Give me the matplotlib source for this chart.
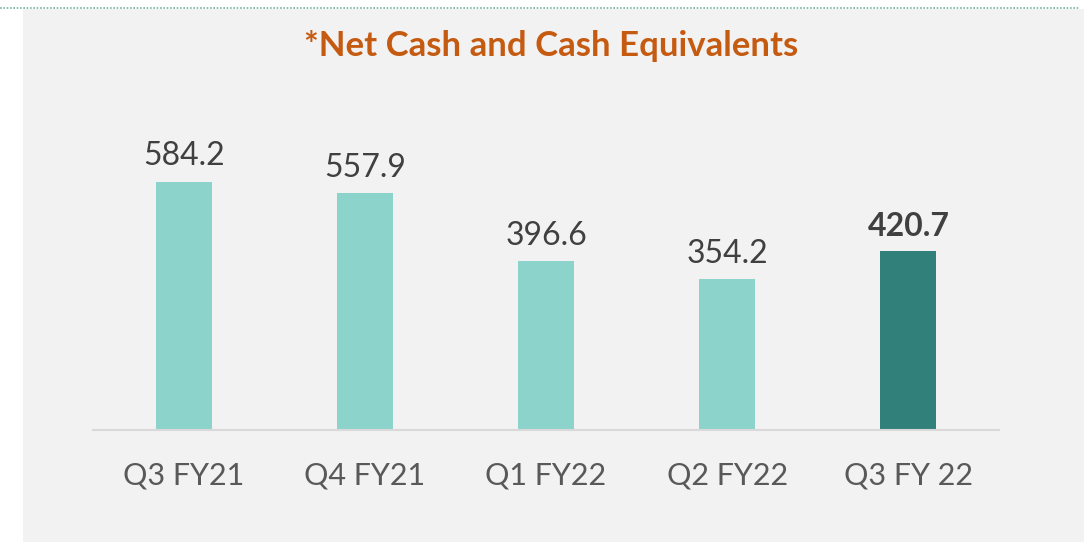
import matplotlib.pyplot as plt
from matplotlib.patches import Rectangle
from matplotlib.lines import Line2D

# 数据
quarters = ['Q3 FY21', 'Q4 FY21', 'Q1 FY22', 'Q2 FY22', 'Q3 FY 22']
net_cash = [584.2, 557.9, 396.6, 354.2, 420.7]
bar_colors = ['#8cd3cc', '#8cd3cc', '#8cd3cc', '#8cd3cc', '#31807a']

plt.rcParams['font.family'] = ['Lato', 'DejaVu Sans']

fig = plt.figure(figsize=(10.84, 5.42), dpi=100)
fig.patch.set_facecolor('white')

# 灰色背景面板和顶部虚线
fig.patches.append(Rectangle((23 / 1084, 0), 1 - 23 / 1084, 1 - 9 / 542,
                             transform=fig.transFigure, facecolor='#f2f2f2',
                             edgecolor='none', zorder=-10))
fig.lines.append(Line2D([0, 1080 / 1084], [1 - 7.5 / 542, 1 - 7.5 / 542],
                        transform=fig.transFigure, color='#7fb0a6',
                        linestyle=(0, (1, 1)), linewidth=1.2, zorder=-5))

ax = fig.add_axes([93 / 1084, 112 / 542, 906 / 1084, 350 / 542])
ax.set_facecolor('none')
ax.set_zorder(1)
x = range(len(quarters))
ax.bar(x, net_cash, width=0.31, color=bar_colors, zorder=2)

for i, v in enumerate(net_cash):
    last = i == len(net_cash) - 1
    ax.text(i, v + 24, f'{v:.1f}', ha='center', va='bottom', fontsize=23,
            color='#404040', fontweight='bold' if last else 'normal')

ax.set_xlim(-0.5, 4.5)
ax.set_ylim(0, 823)
ax.set_xticks(list(x))
ax.set_xticklabels(quarters, fontsize=22, color='#595959')
ax.tick_params(axis='x', length=0, pad=23)
ax.set_yticks([])
for s in ['top', 'right', 'left']:
    ax.spines[s].set_visible(False)
ax.spines['bottom'].set_color('#d9d9d9')
ax.spines['bottom'].set_linewidth(1.5)

fig.text(551 / 1084, 1 - 46 / 542, '*Net Cash and Cash Equivalents',
         ha='center', va='center', fontsize=25, fontweight='bold', color='#c55a11')

plt.savefig('out.png', dpi=100)
